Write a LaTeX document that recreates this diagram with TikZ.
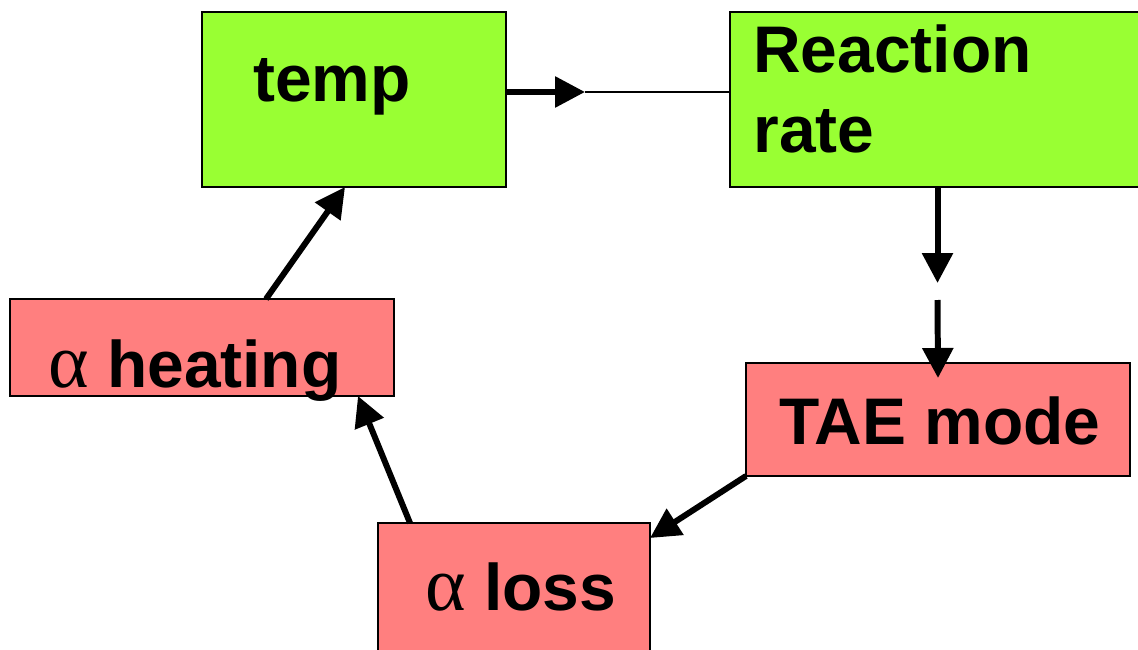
\documentclass[tikz,border=0pt]{standalone}
\usepackage{fontspec}
\setmainfont{Liberation Sans}
\newfontfamily\greekfont{Liberation Serif}
\usetikzlibrary{arrows.meta,calc}

\definecolor{boxgreen}{RGB}{153,255,51}
\definecolor{boxpink}{RGB}{255,127,127}

\tikzset{
  box/.style={draw, rectangle, line width=1.1pt, inner sep=0pt, outer sep=0pt},
  lbl/.style={inner sep=0pt, anchor=base west, font=\fontsize{37.5}{44}\selectfont\bfseries},
  link/.style={line width=3.4pt, -{Triangle[length=0.6cm,width=0.6cm]}},
  thinlink/.style={line width=0.75pt}
}
\newcommand{\alphasym}{{\greekfont\mdseries\fontsize{44}{44}\selectfont α}}

\begin{document}
\begin{tikzpicture}
  \useasboundingbox (0,0) rectangle (22.76,12.98);

  % the five boxes of the loop
  \node[box, fill=boxgreen, minimum width=6.08cm, minimum height=3.5cm] (temp) at (7.08,10.99) {};
  \node[box, fill=boxgreen, minimum width=8.3cm, minimum height=3.5cm] (rate) at (18.75,10.99) {};
  \node[box, fill=boxpink, minimum width=7.68cm, minimum height=1.94cm] (heat) at (4.04,6.03) {};
  \node[box, fill=boxpink, minimum width=7.68cm, minimum height=2.26cm] (tae) at (18.76,4.59) {};
  \node[box, fill=boxpink, minimum width=5.44cm, minimum height=2.72cm] (loss) at (10.28,1.16) {};

  % texts
  \node[lbl] (tempText) at (5.06,10.94) {temp};
  \node[lbl] (rateText1) at (15.06,11.52) {Reaction};
  \node[lbl] (rateText2) at (15.06,9.94) {rate};
  \node[lbl] (heatText) at (0.96,5.24) {\alphasym{} heating};
  \node[lbl] (taeText) at (15.58,4.10) {TAE mode};
  \node[lbl] (lossText) at (8.50,0.78) {\alphasym{} loss};

  % temp -> reaction rate
  \coordinate (tipA) at (11.7,11.14);
  \draw[thinlink] (tipA) -- (tipA -| rate.west);
  \draw[link] (tipA -| temp.east) -- (tipA);

  % reaction rate -> TAE mode, broken in two
  \coordinate (gapA) at (18.75,7.32);
  \coordinate (gapB) at (18.75,6.98);
  \draw[link] (rate.south) -- (gapA);
  \draw[link] (gapB) -- ($(tae.north)+(0,-0.3)$);

  % back round the loop
  \draw[link] (tae.south west) -- ($(loss.north east)+(0,-0.3)$);
  \draw[link] ($(loss.north west)+(0.64,0)$) -- ($(heat.south east)+(-0.72,0)$);
  \draw[link] ($(heat.north west)+(5.12,0)$) -- ($(temp.south west)+(2.86,0)$);
\end{tikzpicture}
\end{document}
